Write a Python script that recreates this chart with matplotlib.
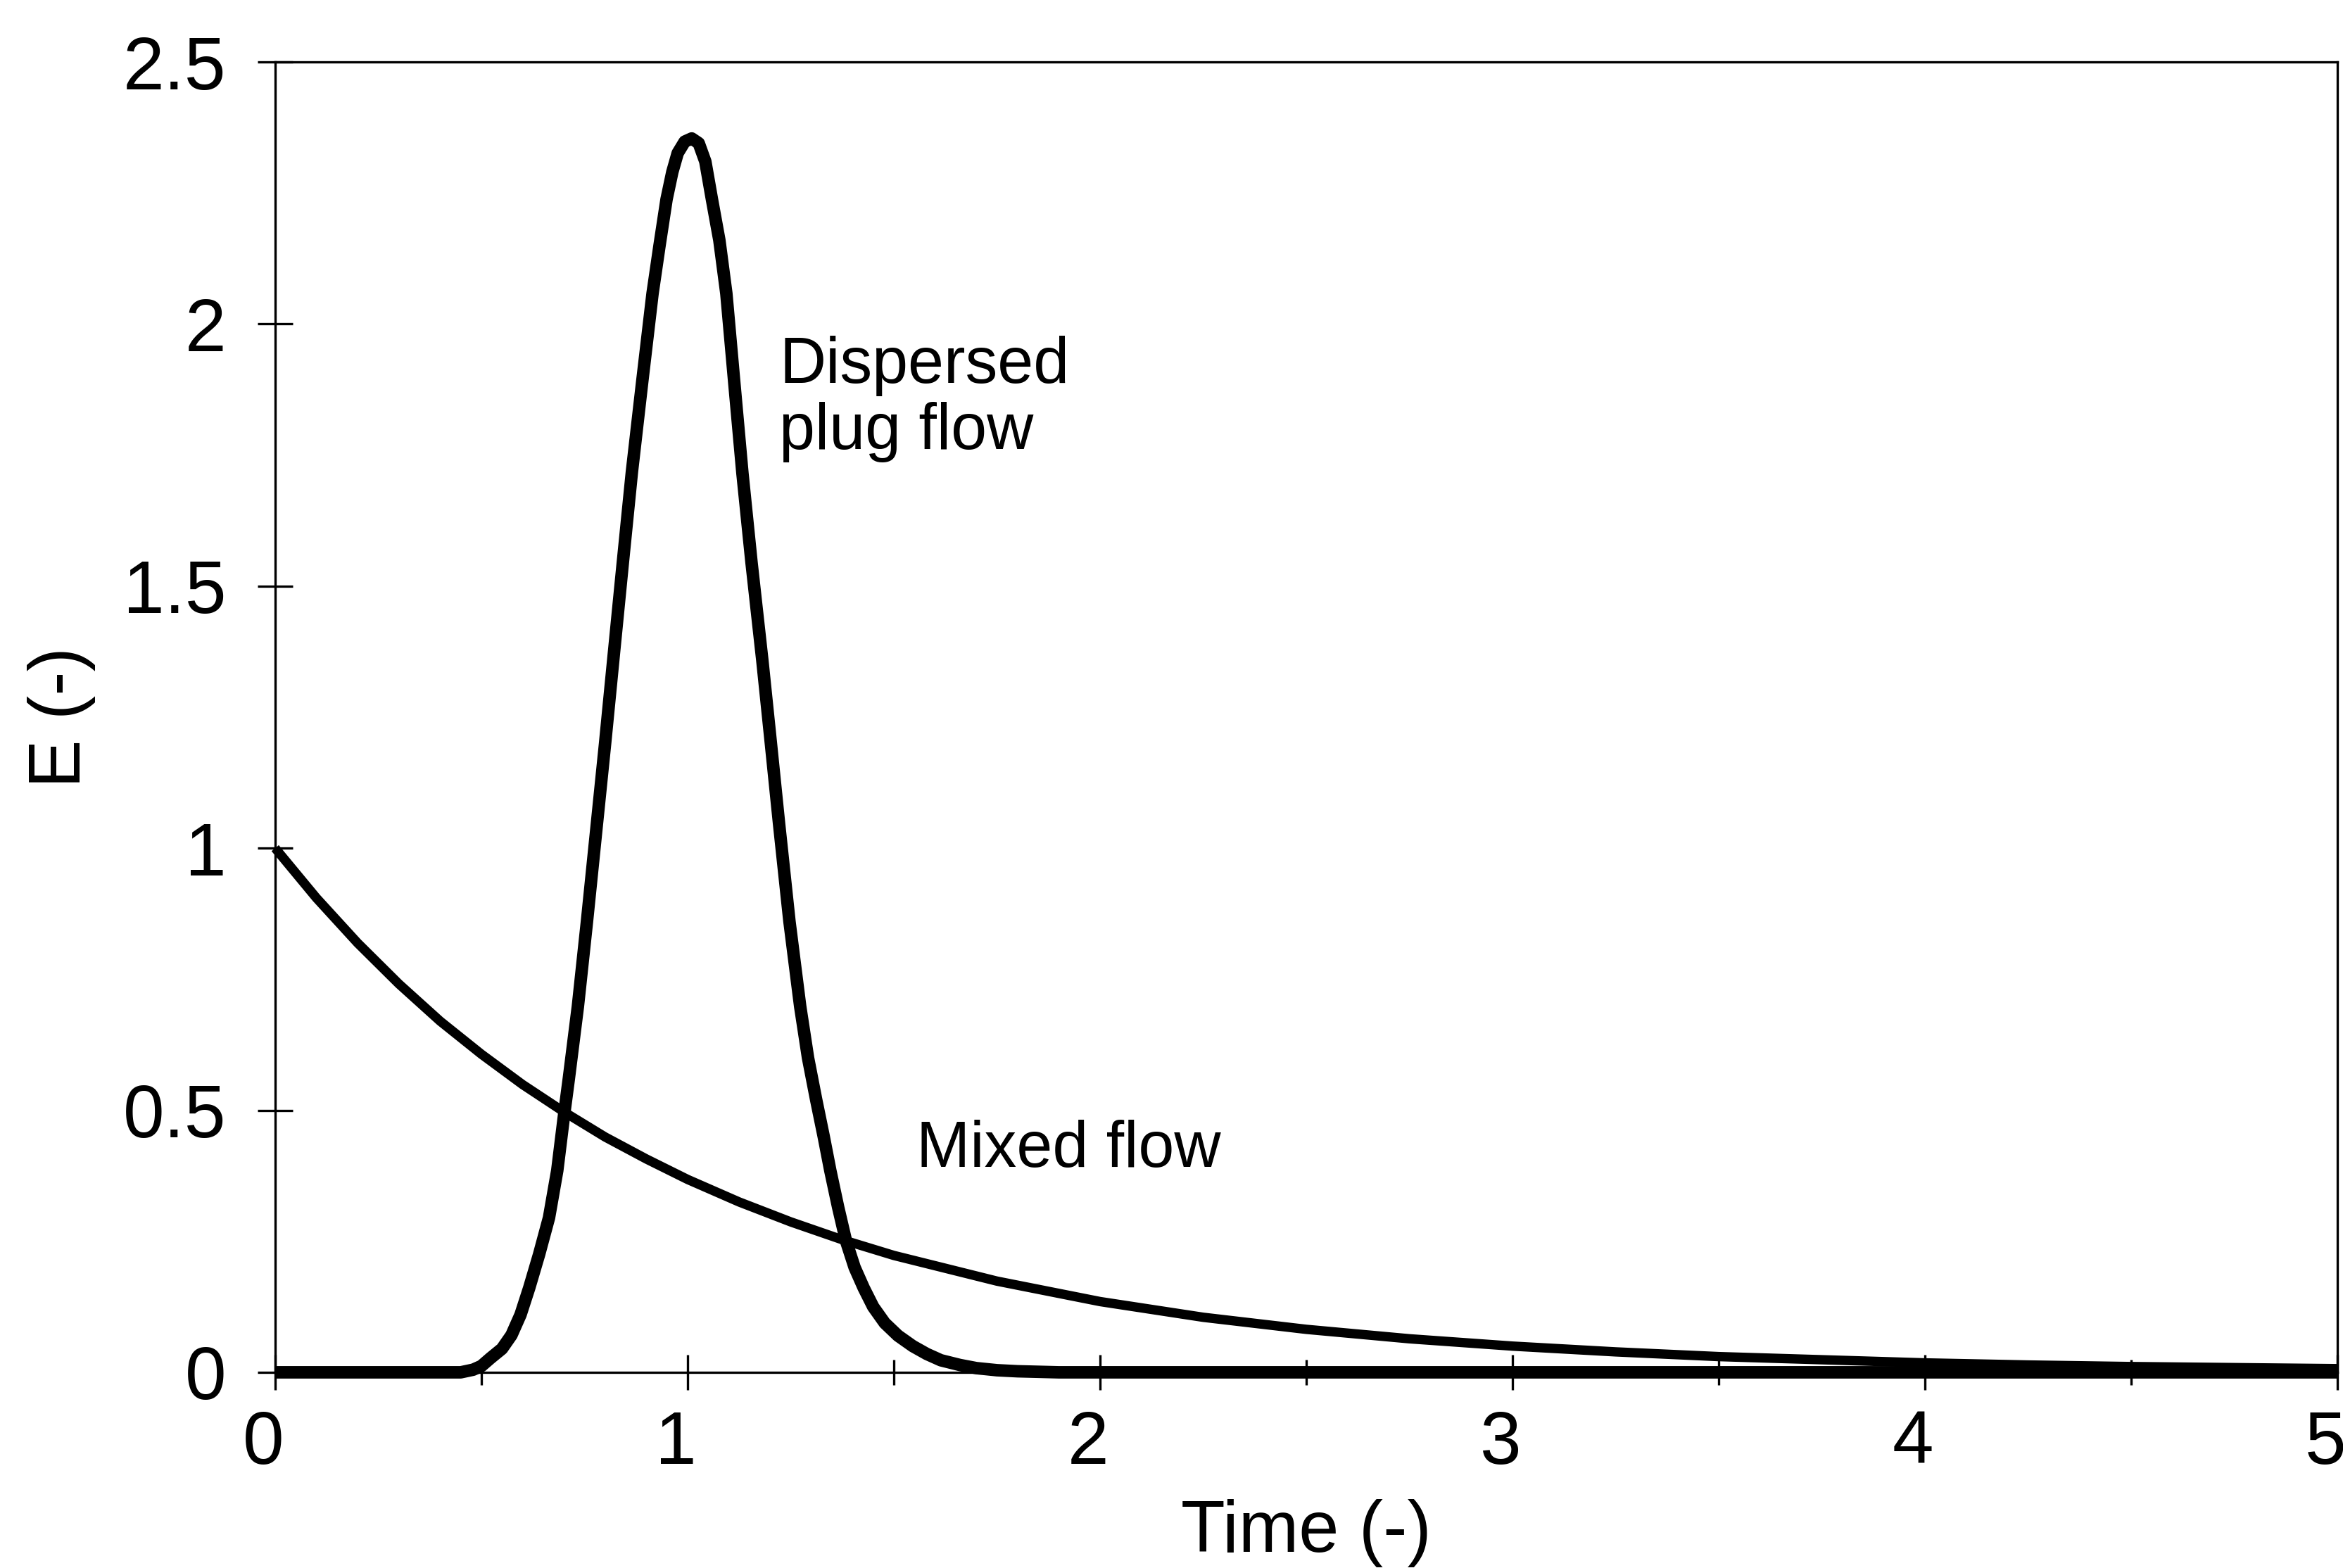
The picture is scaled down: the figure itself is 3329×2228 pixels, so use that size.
import matplotlib
matplotlib.use("Agg")
import matplotlib.pyplot as plt
from matplotlib.ticker import MultipleLocator, FormatStrFormatter
from matplotlib.transforms import ScaledTranslation

plt.rcParams["font.family"] = ["Liberation Sans", "DejaVu Sans"]

# dispersed plug flow E-curve
t_disp = [0.0, 0.45, 0.48, 0.50, 0.522, 0.55, 0.573, 0.595, 0.616, 0.64,
          0.664, 0.684, 0.701, 0.712, 0.734, 0.756, 0.778, 0.80, 0.821,
          0.843, 0.865, 0.89, 0.915, 0.932, 0.949, 0.963, 0.976, 0.993,
          1.010, 1.027, 1.043, 1.059, 1.077, 1.094, 1.113, 1.133, 1.155,
          1.181, 1.20, 1.222, 1.247, 1.273, 1.292, 1.312, 1.33, 1.346,
          1.365, 1.384, 1.405, 1.427, 1.45, 1.478, 1.51, 1.546, 1.58,
          1.614, 1.66, 1.70, 1.75, 1.80, 1.9, 5.0]
e_disp = [0.0, 0.0, 0.005, 0.012, 0.027, 0.045, 0.071, 0.11, 0.161, 0.225,
          0.295, 0.385, 0.494, 0.56, 0.698, 0.86, 1.030, 1.20, 1.369,
          1.545, 1.718, 1.89, 2.058, 2.15, 2.238, 2.29, 2.326, 2.348,
          2.354, 2.345, 2.31, 2.238, 2.16, 2.058, 1.89, 1.715, 1.545,
          1.36, 1.215, 1.045, 0.86, 0.698, 0.60, 0.519, 0.45, 0.385,
          0.315, 0.251, 0.20, 0.161, 0.125, 0.094, 0.07, 0.050, 0.035,
          0.023, 0.014, 0.008, 0.004, 0.002, 0.0, 0.0]

# mixed flow E-curve
t_mixed = [0.0, 0.1, 0.2, 0.3, 0.4, 0.5, 0.6, 0.7, 0.8, 0.9, 1.0, 1.125,
           1.25, 1.375, 1.5, 1.75, 2.0, 2.25, 2.5, 2.75, 3.0, 3.25, 3.5,
           3.75, 4.0, 4.25, 4.5, 4.75, 5.0]
e_mixed = [1.0, 0.905, 0.819, 0.741, 0.670, 0.607, 0.549, 0.497, 0.449,
           0.407, 0.368, 0.325, 0.287, 0.253, 0.223, 0.174, 0.135, 0.105,
           0.082, 0.064, 0.05, 0.039, 0.03, 0.024, 0.018, 0.014, 0.011,
           0.009, 0.007]

fig = plt.figure(figsize=(16.65, 11.14), dpi=200)
ax = fig.add_axes([0.1174, 0.1248, 0.8799, 0.8357])

ax.plot(t_mixed, e_mixed, color="black", lw=4.8, clip_on=False,
        solid_capstyle="butt", solid_joinstyle="round")
ax.plot(t_disp, e_disp, color="black", lw=6.4, clip_on=False,
        solid_capstyle="butt", solid_joinstyle="round")

ax.set_xlim(0, 5)
ax.set_ylim(0, 2.5)
ax.xaxis.set_major_locator(MultipleLocator(1))
ax.xaxis.set_minor_locator(MultipleLocator(0.5))
ax.yaxis.set_major_locator(MultipleLocator(0.5))
ax.yaxis.set_major_formatter(FormatStrFormatter("%g"))

ax.tick_params(axis="both", which="major", direction="inout", length=18,
               width=1.2, labelsize=38, color="black")
ax.tick_params(axis="x", which="major", pad=10)
ax.tick_params(axis="y", which="major", pad=16)
ax.tick_params(axis="x", which="minor", direction="inout", length=13,
               width=1.2)

# the x tick labels sit a little left of their ticks in the original
shift = ScaledTranslation(-17 / 200, 0, fig.dpi_scale_trans)
for lab in ax.get_xticklabels():
    lab.set_transform(lab.get_transform() + shift)

for s in ax.spines.values():
    s.set_linewidth(1.2)

ax.set_xlabel("Time (-)", fontsize=37, labelpad=10)
ax.set_ylabel("E (-)", fontsize=37, labelpad=14)

ax.text(1.222, 1.761, "Dispersed\nplug flow", fontsize=33, ha="left",
        va="baseline", linespacing=1.12)
ax.text(1.555, 0.392, "Mixed flow", fontsize=33, ha="left", va="baseline")

fig.savefig("out.png", dpi=200, facecolor="white")
